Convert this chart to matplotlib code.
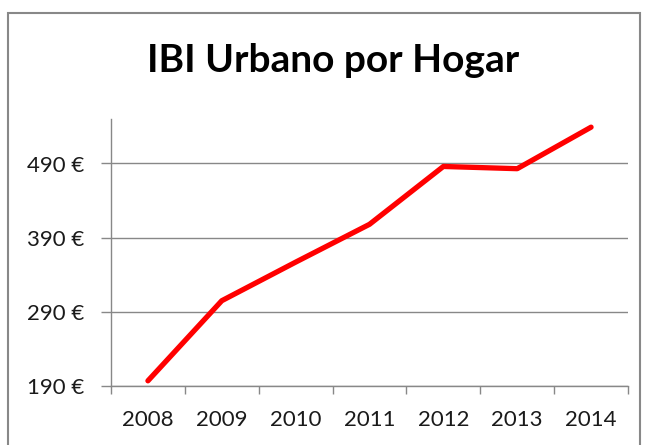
import matplotlib.pyplot as plt
from matplotlib.patches import Rectangle
from matplotlib.ticker import FixedLocator

years = ['2008', '2009', '2010', '2011', '2012', '2013', '2014']
ibi = [197, 305, 357, 408, 486, 483, 539]
yticks = [190, 290, 390, 490]
ylabels = ['190 €', '290 €', '390 €', '490 €']

grey = '#888888'
plt.rcParams['font.family'] = ['Lato', 'DejaVu Sans']

fig = plt.figure(figsize=(6.48, 4.45), dpi=100)
ax = fig.add_axes([111/648, 1 - 386/445, (628 - 111)/648, (386 - 119)/445])

x = list(range(len(years)))
ax.plot(x, ibi, color='#ff0000', lw=3.8, solid_capstyle='round', solid_joinstyle='round', zorder=3)

ax.set_xlim(-0.5, len(years) - 0.5)
ax.set_ylim(190, 550)
ax.set_yticks(yticks)
ax.set_yticklabels(ylabels, fontsize=16)
ax.set_xticks(x)
ax.set_xticklabels(years, fontsize=16)
ax.xaxis.set_minor_locator(FixedLocator([i - 0.5 for i in range(len(years) + 1)]))
ax.tick_params(axis='x', which='major', length=0, pad=17, colors='#1a1a1a')
ax.tick_params(axis='x', which='minor', length=6, width=1, color=grey, direction='out')
ax.tick_params(axis='y', length=7, width=1, color=grey, pad=12, labelcolor='#1a1a1a')
ax.grid(axis='y', color=grey, lw=1)
ax.set_axisbelow(True)
for s in ['top', 'right']:
    ax.spines[s].set_visible(False)
for s in ['left', 'bottom']:
    ax.spines[s].set_color(grey)
    ax.spines[s].set_linewidth(1)

fig.text(333/648, 1 - 61/445, 'IBI Urbano por Hogar', ha='center', va='center',
         fontsize=28, fontweight='bold')

fig.patches.append(Rectangle((8/648, -0.05), (640 - 8)/648, 1.05 - 13/445,
                             transform=fig.transFigure, fill=False,
                             edgecolor=grey, lw=1.5))

fig.savefig('out.png', dpi=100)
